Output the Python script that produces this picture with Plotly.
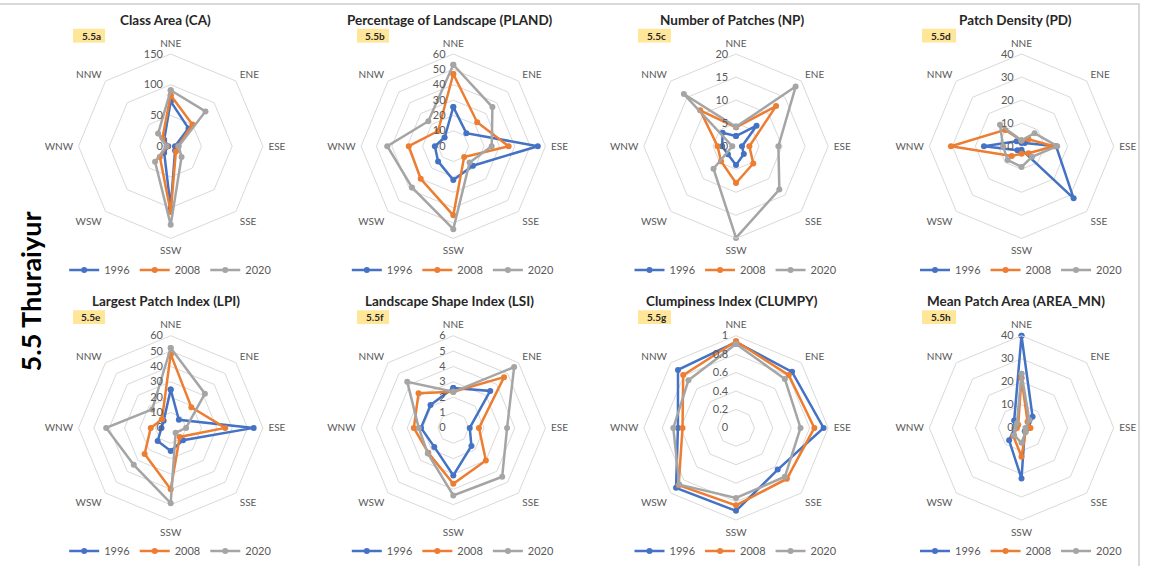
import plotly.graph_objects as go

# Wind-direction sectors (clockwise from the top)
directions = ["NNE", "ENE", "ESE", "SSE", "SSW", "WSW", "WNW", "NNW"]
years = ["1996", "2008", "2020"]

# Class Area (CA)
ca_1996 = [73, 41, 7, 10, 100, 15, 4, 15]
ca_2008 = [83, 50, 12, 12, 107, 25, 6, 19]
ca_2020 = [91, 80, 13, 25, 128, 36, 7, 29]

# Percentage of Landscape (PLAND)
pland_1996 = [25.5, 12, 55, 18, 22, 14, 12, 8]
pland_2008 = [47, 22, 36, 10, 45, 30, 29, 14]
pland_2020 = [53, 36, 25, 15, 54, 38, 43, 23]

# Number of Patches (NP)
np_1996 = [2.2, 6.3, 1.3, 2.4, 4.1, 2.5, 3, 4.1]
np_2008 = [4.1, 12.3, 2.9, 5.3, 8, 4.6, 4, 11]
np_2020 = [4.2, 18.3, 9.2, 13.3, 19.9, 6.9, 0.8, 16]

# Patch Density (PD)
pd_1996 = [1.5, 2, 15, 32, 1.5, 2.5, 16.3, 3]
pd_2008 = [2.5, 4.3, 14, 4.3, 3.3, 6, 30.6, 10]
pd_2020 = [2.5, 8, 15.5, 6.5, 9, 8.5, 8, 13.2]

# Largest Patch Index (LPI)
lpi_1996 = [25, 7.5, 54, 11.4, 15, 12, 6, 6.5]
lpi_2008 = [48, 19, 35.5, 8.3, 40, 24, 13, 8]
lpi_2020 = [52, 31.5, 10, 4.5, 49, 34, 42, 17]

# Landscape Shape Index (LSI)
lsi_1996 = [2.6, 3.4, 1.07, 1.67, 3.1, 1.75, 2.1, 2.1]
lsi_2008 = [2.35, 4.67, 1.67, 3.0, 3.64, 2.3, 2.57, 3.2]
lsi_2020 = [2.35, 5.6, 3.5, 4.5, 4.4, 2.35, 2.25, 4.24]

# Clumpiness Index (CLUMPY)
clumpy_1996 = [0.93, 0.86, 0.95, 0.64, 0.90, 0.92, 0.63, 0.89]
clumpy_2008 = [0.94, 0.81, 0.85, 0.78, 0.84, 0.88, 0.58, 0.81]
clumpy_2020 = [0.91, 0.75, 0.70, 0.75, 0.76, 0.87, 0.68, 0.73]

# Mean Patch Area (AREA_MN)
area_1996 = [40, 6.8, 3, 2, 22, 7.6, 3, 4.5]
area_2008 = [21.6, 3.7, 3.9, 2.5, 12.5, 5, 2, 2]
area_2020 = [23.5, 4.8, 1.7, 2.5, 6.5, 4.5, 3, 2.8]

panels = [
    ("Class Area (CA)", "5.5a", 150, 50, [ca_1996, ca_2008, ca_2020]),
    ("Percentage of Landscape (PLAND)", "5.5b", 60, 10, [pland_1996, pland_2008, pland_2020]),
    ("Number of Patches (NP)", "5.5c", 20, 5, [np_1996, np_2008, np_2020]),
    ("Patch Density (PD)", "5.5d", 40, 10, [pd_1996, pd_2008, pd_2020]),
    ("Largest Patch Index (LPI)", "5.5e", 60, 10, [lpi_1996, lpi_2008, lpi_2020]),
    ("Landscape Shape Index (LSI)", "5.5f", 6, 1, [lsi_1996, lsi_2008, lsi_2020]),
    ("Clumpiness Index (CLUMPY)", "5.5g", 1, 0.2, [clumpy_1996, clumpy_2008, clumpy_2020]),
    ("Mean Patch Area (AREA_MN)", "5.5h", 40, 10, [area_1996, area_2008, area_2020]),
]

colors = ["#4472C4", "#ED7D31", "#A5A5A5"]
W, H = 1150, 566
FONT = "Lato"
TXT = "#595959"

col_cx = [170.7, 453.3, 736.0, 1021.5]
row_cy = [147.5, 431.7]
R = 93.0
legend_y = [272.5, 556.0]
title_y = [20.5, 304.0]
title_dx = [-5, -4, -4, -6]
tag_x = [(73, 105), (357, 389), (638, 671), (922, 956)]
tag_y = [(29, 43), (313, 327)]


def px_x(x):
    return x / W


def px_y(y):
    return 1 - y / H


fig = go.Figure()
layout = {}
annotations = []
shapes = []

for i, (title, tag, rmax, dtick, series) in enumerate(panels):
    row, col = divmod(i, 4)
    cx, cy = col_cx[col], row_cy[row]
    pname = "polar" if i == 0 else f"polar{i + 1}"
    lname = "legend" if i == 0 else f"legend{i + 1}"

    for yr, vals, c in zip(years, series, colors):
        fig.add_trace(go.Scatterpolar(
            r=vals + vals[:1],
            theta=directions + directions[:1],
            mode="lines+markers",
            name=yr,
            line=dict(color=c, width=2.5),
            marker=dict(color=c, size=6),
            subplot=pname,
            legend=lname,
        ))

    layout[pname] = dict(
        domain=dict(x=[px_x(cx - R), px_x(cx + R)], y=[px_y(cy + R), px_y(cy - R)]),
        bgcolor="white",
        gridshape="linear",
        radialaxis=dict(
            range=[0, rmax], dtick=dtick, angle=90, tickangle=90,
            side="counterclockwise", showline=False, ticks="",
            ticksuffix="\u00a0\u00a0",
            gridcolor="#D9D9D9", gridwidth=1,
            tickfont=dict(family=FONT, size=11, color=TXT),
        ),
        angularaxis=dict(
            direction="clockwise", rotation=90, showgrid=False,
            ticks="outside", ticklen=3, tickcolor="rgba(0,0,0,0)",
            linecolor="#D9D9D9", linewidth=1,
            tickfont=dict(family=FONT, size=10, color=TXT),
        ),
    )

    layout[lname] = dict(
        orientation="h", x=px_x(cx), xanchor="center",
        y=px_y(legend_y[row]), yanchor="middle",
        font=dict(family=FONT, size=11, color=TXT),
        bgcolor="rgba(0,0,0,0)", itemwidth=30, tracegroupgap=0,
    )

    annotations.append(dict(
        text=f"<b>{title}</b>", x=px_x(cx + title_dx[col]), y=px_y(title_y[row]),
        xref="paper", yref="paper", showarrow=False, xanchor="center", yanchor="middle",
        font=dict(family=FONT, size=13.5, color="#262626"),
    ))

    x0, x1 = tag_x[col]
    y0, y1 = tag_y[row]
    shapes.append(dict(
        type="rect", xref="paper", yref="paper",
        x0=px_x(x0), x1=px_x(x1), y0=px_y(y1), y1=px_y(y0),
        fillcolor="#FFE699", line=dict(width=0), layer="below",
    ))
    annotations.append(dict(
        text=f"<b>{tag}</b>", x=px_x((x0 + x1) / 2 + 2), y=px_y((y0 + y1) / 2),
        xref="paper", yref="paper", showarrow=False, xanchor="center", yanchor="middle",
        font=dict(family=FONT, size=10, color="#262626"),
    ))

# Frame around the figure
shapes.append(dict(
    type="rect", xref="paper", yref="paper",
    x0=px_x(-10), x1=px_x(1139), y0=px_y(580), y1=px_y(4),
    line=dict(color="#D9D9D9", width=2), fillcolor="rgba(0,0,0,0)", layer="below",
))

# Vertical town heading
annotations.append(dict(
    text="<b>5.5 Thuraiyur</b>", x=px_x(30), y=px_y(294), xref="paper", yref="paper",
    showarrow=False, textangle=-90, xanchor="center", yanchor="middle",
    font=dict(family=FONT, size=27, color="#000000"),
))

fig.update_layout(
    **layout,
    width=W, height=H,
    margin=dict(l=0, r=0, t=0, b=0),
    paper_bgcolor="white",
    template="none",
    showlegend=True,
    annotations=annotations,
    shapes=shapes,
)

fig.write_html("out.html")
